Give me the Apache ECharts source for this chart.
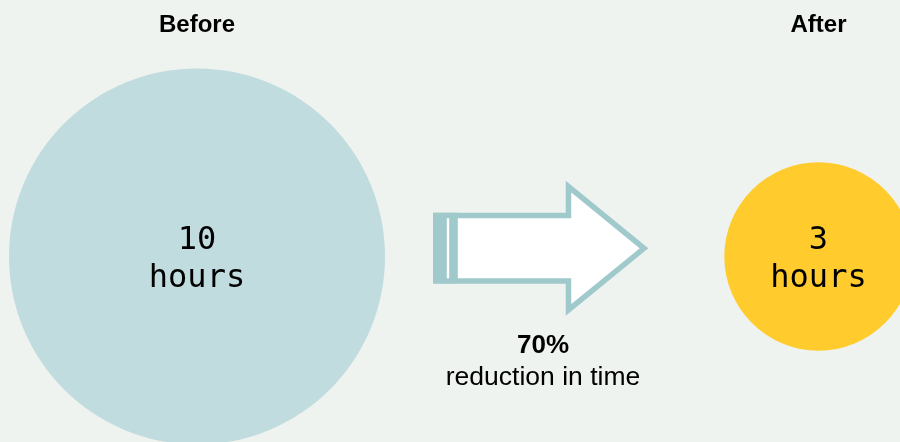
<!DOCTYPE html>
<html>
<head>
<meta charset="utf-8">
<script src="https://cdn.jsdelivr.net/npm/echarts@6/dist/echarts.min.js"></script>
<style>
html,body{margin:0;padding:0;background:#eef3ef;}
#chart{width:900px;height:442px;}
</style>
</head>
<body>
<div id="chart"></div>
<script>
var categories = ['Before', 'After'];
var hours = [10, 3];
var unitLabel = 'hours';
var noteLabel = 'reduction in time';

var reduction = Math.round((1 - hours[1] / hours[0]) * 100) + '%';
var circleColors = ['#c1dcdf', '#ffcb2d'];

var chart = echarts.init(document.getElementById('chart'));
var option = {
  backgroundColor: '#eef3ef',
  animation: false,
  grid: { left: 197, right: 81.5, top: 71, bottom: 0 },
  xAxis: {
    type: 'category',
    data: categories,
    position: 'top',
    boundaryGap: false,
    axisLine: { show: false },
    axisTick: { show: false },
    splitLine: { show: false },
    axisLabel: {
      show: true,
      margin: 34,
      fontFamily: 'Liberation Sans',
      fontWeight: 'bold',
      fontSize: 24,
      color: '#000'
    }
  },
  yAxis: { type: 'value', min: -1, max: 1, show: false },
  graphic: [
    {
      type: 'polygon',
      z: 10,
      shape: { points: [[436, 215.5], [568.5, 215.5], [568.5, 186.5], [644, 248.3], [568.5, 310], [568.5, 281], [436, 281]] },
      style: { fill: '#ffffff', stroke: '#a0c9cc', lineWidth: 5.5, lineJoin: 'miter' }
    },
    { type: 'rect', z: 11, shape: { x: 433, y: 212.7, width: 24.8, height: 70.6 }, style: { fill: '#a0c9cc' } },
    { type: 'rect', z: 12, shape: { x: 446.8, y: 218.3, width: 2.4, height: 60 }, style: { fill: '#ffffff' } },
    {
      type: 'text', z: 10,
      style: { text: reduction, x: 543, y: 346, align: 'center', verticalAlign: 'middle', fontFamily: 'Liberation Sans', fontWeight: 'bold', fontSize: 26, fill: '#000' }
    },
    {
      type: 'text', z: 10,
      style: { text: noteLabel, x: 543, y: 378, align: 'center', verticalAlign: 'middle', fontFamily: 'Liberation Sans', fontSize: 26.5, fill: '#000' }
    }
  ],
  series: [{
    type: 'scatter',
    symbol: 'circle',
    data: categories.map(function (c, i) {
      return { value: [c, 0, hours[i]], itemStyle: { color: circleColors[i], opacity: 1 } };
    }),
    symbolSize: function (v) { return 108 + 26.8 * v[2]; },
    itemStyle: { opacity: 1 },
    label: {
      show: true,
      position: 'inside',
      offset: [0, 3],
      formatter: function (p) { return p.value[2] + '\n' + unitLabel; },
      fontFamily: 'DejaVu Sans Mono',
      fontSize: 32,
      lineHeight: 38,
      color: '#000'
    },
    emphasis: { disabled: true }
  }]
};
chart.setOption(option);
</script>
</body>
</html>
